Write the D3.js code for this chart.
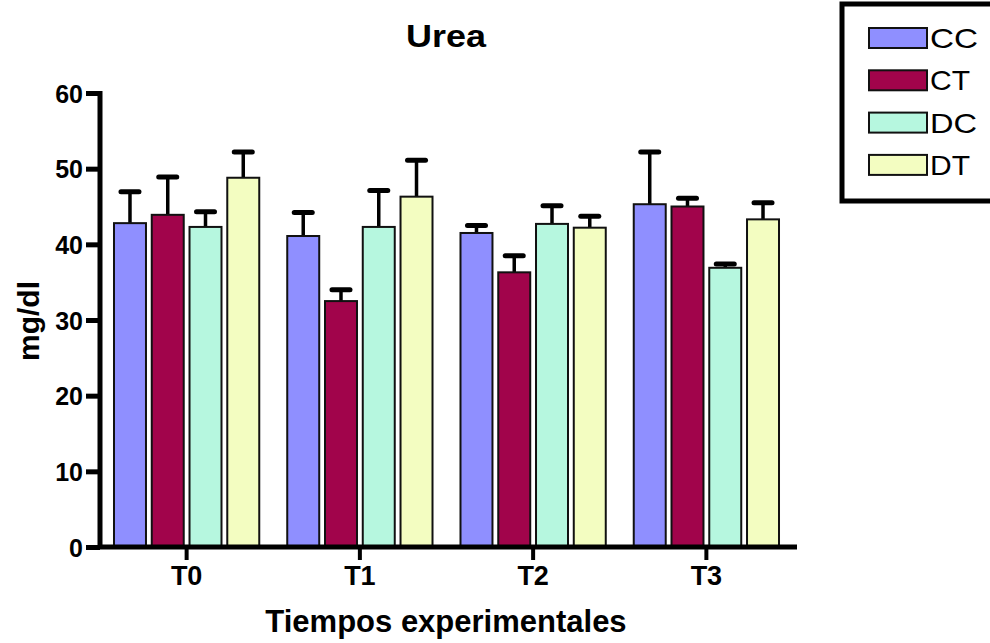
<!DOCTYPE html>
<html><head><meta charset="utf-8">
<script src="https://cdn.jsdelivr.net/npm/d3@7"></script>
<style>body{margin:0;background:#fff}svg{display:block}text{font-family:"Liberation Sans",Arial,sans-serif}</style>
</head><body>
<svg id="c" width="990" height="643"></svg>
<script>
const categories = ["T0","T1","T2","T3"];
const series = ["CC","CT","DC","DT"];
const colors = ["#8f8fff","#a1044b","#b6f7df","#f3fdc1"];
const means = {
  CC: [42.8, 41.1, 41.5, 45.3],
  CT: [43.9, 32.5, 36.3, 45.0],
  DC: [42.3, 42.3, 42.7, 36.9],
  DT: [48.8, 46.3, 42.2, 43.3]
};
const errors = {
  CC: [4.15, 3.1, 1.0, 6.9],
  CT: [5.0, 1.5, 2.2, 1.1],
  DC: [2.0, 4.8, 2.4, 0.5],
  DT: [3.4, 4.8, 1.5, 2.2]
};
const yTicks = [0,10,20,30,40,50,60];

const svg = d3.select("#c");
const L = 100, R = 793, T = 93, B = 547;
const x0 = d3.scaleBand().domain(categories).range([L, R]).paddingInner(0.15).paddingOuter(0.075);
const x1 = d3.scaleBand().domain(series).range([0, x0.bandwidth()]).paddingInner(0.1);
const y = d3.scaleLinear().domain([0,60]).range([B, T]);
const color = d3.scaleOrdinal().domain(series).range(colors);

const data = [];
categories.forEach((c,i)=>series.forEach(s=>data.push({c, s, v:means[s][i], e:errors[s][i]})));

const eb = svg.append("g").attr("stroke","#000").attr("stroke-linecap","round");
data.forEach(d=>{
  const cx = x0(d.c)+x1(d.s)+x1.bandwidth()/2;
  eb.append("line").attr("x1",cx).attr("x2",cx).attr("y1",y(d.v)).attr("y2",y(d.v+d.e)).attr("stroke-width",3.5);
  eb.append("line").attr("x1",cx-9).attr("x2",cx+9).attr("y1",y(d.v+d.e)).attr("y2",y(d.v+d.e)).attr("stroke-width",5);
});

svg.append("g").selectAll("rect").data(data).join("rect")
  .attr("x",d=>x0(d.c)+x1(d.s)+1)
  .attr("width",x1.bandwidth()-2)
  .attr("y",d=>y(d.v))
  .attr("height",d=>B-y(d.v))
  .attr("fill",d=>color(d.s))
  .attr("stroke","#111").attr("stroke-width",2);

const ya = svg.append("g").attr("transform",`translate(${L},0)`)
  .call(d3.axisLeft(y).tickValues(yTicks).tickSize(14).tickPadding(3).tickFormat(d3.format("d")));
ya.select(".domain").attr("stroke","#000").attr("stroke-width",5).attr("d",`M0,${T-2}V${B+2}`);
ya.selectAll(".tick line").attr("stroke","#000").attr("stroke-width",5);
ya.selectAll(".tick text").attr("font-size",25).attr("font-weight","bold").attr("fill","#000").attr("font-family","Liberation Sans, Arial, sans-serif").attr("dy","0.36em");

const xa = svg.append("g").attr("transform",`translate(0,${B})`)
  .call(d3.axisBottom(x0).tickSize(13).tickPadding(6));
xa.select(".domain").attr("stroke","#000").attr("stroke-width",5).attr("d",`M${L-2},0H797`);
xa.selectAll(".tick line").attr("stroke","#000").attr("stroke-width",4);
xa.selectAll(".tick text").attr("font-size",27).attr("font-weight","bold").attr("fill","#000").attr("font-family","Liberation Sans, Arial, sans-serif");

svg.append("text").attr("x",446).attr("y",47).attr("text-anchor","middle").attr("font-size",32).attr("font-weight","bold")
  .attr("textLength",80).attr("lengthAdjust","spacingAndGlyphs").text("Urea");
svg.append("text").attr("x",446).attr("y",632).attr("text-anchor","middle").attr("font-size",31).attr("font-weight","bold").text("Tiempos experimentales");
svg.append("text").attr("transform","translate(39,321) rotate(-90)").attr("text-anchor","middle").attr("font-size",30).attr("font-weight","bold").text("mg/dl");

const lg = svg.append("g");
lg.append("rect").attr("x",842).attr("y",4).attr("width",160).attr("height",197).attr("fill","#fff").attr("stroke","#000").attr("stroke-width",5);
const legW = {CC:48, CT:40, DC:47, DT:40};
series.forEach((s,i)=>{
  const yy = 28 + i*42.3;
  lg.append("rect").attr("x",869).attr("y",yy).attr("width",58).attr("height",20).attr("fill",color(s)).attr("stroke","#111").attr("stroke-width",2);
  lg.append("text").attr("x",930).attr("y",yy+20).attr("font-size",28).attr("fill","#000")
    .attr("textLength",legW[s]).attr("lengthAdjust","spacingAndGlyphs").text(s);
});
</script>
</body></html>
